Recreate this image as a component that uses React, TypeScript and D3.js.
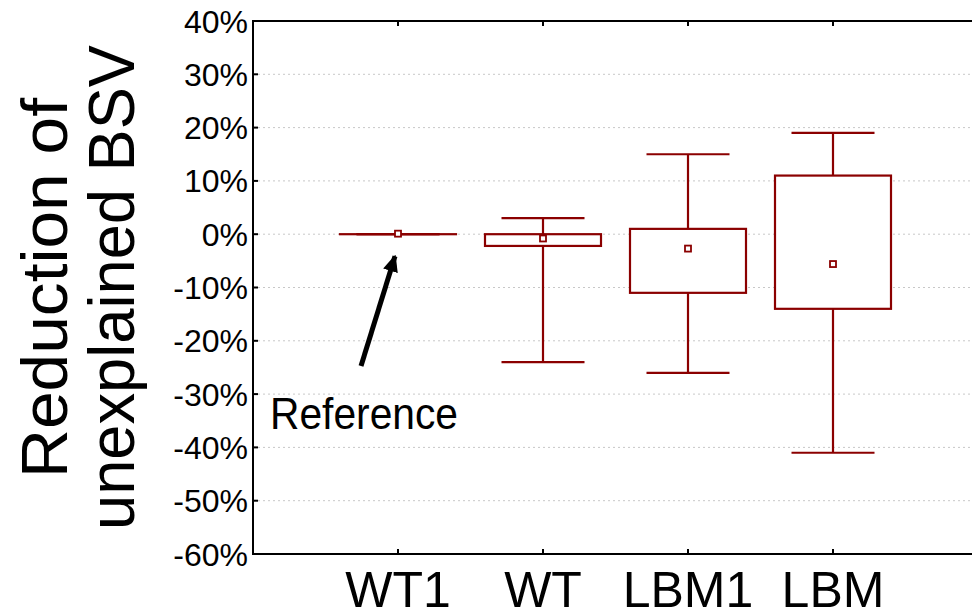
import React, { useRef, useEffect } from 'react';
import * as d3 from 'd3';

// values (percent)
const groups = ['WT1', 'WT', 'LBM1', 'LBM'];
const whiskerLow = [0, -24, -26, -41];
const boxLow = [0, -2.2, -11, -14];
const boxHigh = [0, 0, 1, 11];
const whiskerHigh = [0, 3, 15, 19];
const means = [0.1, -0.8, -2.7, -5.6];
const yTicks = [40, 30, 20, 10, 0, -10, -20, -30, -40, -50, -60];

export default function App() {
  const svgRef = useRef<SVGSVGElement>(null);

  useEffect(() => {
    const width = 972;
    const height = 612;
    const margin = { top: 21, right: -6, bottom: 58, left: 253 };
    const red = '#8b0000';

    const svg = d3.select(svgRef.current)
      .attr('width', width)
      .attr('height', height);
    svg.selectAll('*').remove();

    const x = d3.scalePoint<string>()
      .domain(groups)
      .range([margin.left, width - margin.right])
      .padding(1);
    const y = d3.scaleLinear()
      .domain([-60, 40])
      .range([height - margin.bottom, margin.top]);

    const boxW = 116;
    const capW = 83;
    const font = 'Liberation Sans, Arial, sans-serif';

    // grid
    svg.append('g')
      .selectAll('line')
      .data(yTicks.filter(t => t !== 40 && t !== -60))
      .join('line')
      .attr('x1', margin.left)
      .attr('x2', width)
      .attr('y1', d => y(d))
      .attr('y2', d => y(d))
      .attr('stroke', '#c8c8c8')
      .attr('stroke-width', 1)
      .attr('stroke-dasharray', '2,3');

    // boxes
    const g = svg.append('g');
    groups.forEach((name, i) => {
      const cx = x(name)!;
      // whisker stem
      g.append('line')
        .attr('x1', cx).attr('x2', cx)
        .attr('y1', y(whiskerLow[i])).attr('y2', y(whiskerHigh[i]))
        .attr('stroke', red).attr('stroke-width', 2.2);
      // caps
      [whiskerLow[i], whiskerHigh[i]].forEach(v => {
        g.append('line')
          .attr('x1', cx - capW / 2).attr('x2', cx + capW / 2)
          .attr('y1', y(v)).attr('y2', y(v))
          .attr('stroke', red).attr('stroke-width', 2.2);
      });
      // box
      g.append('rect')
        .attr('x', cx - boxW / 2)
        .attr('y', y(boxHigh[i]))
        .attr('width', boxW)
        .attr('height', Math.max(0.01, y(boxLow[i]) - y(boxHigh[i])))
        .attr('fill', 'white')
        .attr('stroke', red)
        .attr('stroke-width', 2.2);
      // mean marker
      g.append('rect')
        .attr('x', cx - 3)
        .attr('y', y(means[i]) - 3)
        .attr('width', 6)
        .attr('height', 6)
        .attr('fill', 'white')
        .attr('stroke', red)
        .attr('stroke-width', 1.8);
    });

    // frame
    const frame = svg.append('g').attr('stroke', 'black').attr('stroke-width', 2).attr('fill', 'none');
    frame.append('path')
      .attr('d', `M${width},${y(40)}H${margin.left}V${y(-60)}H${width}`);

    // y ticks
    frame.selectAll('line.yt')
      .data(yTicks)
      .join('line')
      .attr('class', 'yt')
      .attr('x1', margin.left).attr('x2', margin.left + 5)
      .attr('y1', d => y(d)).attr('y2', d => y(d));
    // x ticks top and bottom
    groups.forEach(name => {
      const cx = x(name)!;
      frame.append('line').attr('x1', cx).attr('x2', cx).attr('y1', y(40)).attr('y2', y(40) + 5);
      frame.append('line').attr('x1', cx).attr('x2', cx).attr('y1', y(-60)).attr('y2', y(-60) - 5);
    });

    // y tick labels
    svg.append('g')
      .selectAll('text')
      .data(yTicks)
      .join('text')
      .attr('x', margin.left - 5)
      .attr('y', d => y(d))
      .attr('dy', '0.36em')
      .attr('text-anchor', 'end')
      .style('font-family', font)
      .style('font-size', '32px')
      .text(d => `${d}%`);

    // x labels
    svg.append('g')
      .selectAll('text')
      .data(groups)
      .join('text')
      .attr('x', d => x(d)!)
      .attr('y', 607)
      .attr('text-anchor', 'middle')
      .style('font-family', font)
      .style('font-size', '50px')
      .text(d => d);

    // y title
    const title = svg.append('text')
      .attr('transform', 'translate(0,288) rotate(-90)')
      .style('font-family', font)
      .style('font-size', '64px');
    title.append('tspan').attr('x', -190).attr('y', 67)
      .attr('textLength', 380).attr('lengthAdjust', 'spacingAndGlyphs')
      .text('Reduction of');
    title.append('tspan').attr('x', -242).attr('y', 134)
      .attr('textLength', 485).attr('lengthAdjust', 'spacingAndGlyphs')
      .text('unexplained BSV');

    // annotation
    svg.append('defs').append('marker')
      .attr('id', 'head')
      .attr('viewBox', '0 0 10 10')
      .attr('refX', 9).attr('refY', 5)
      .attr('markerWidth', 3.4).attr('markerHeight', 3.4)
      .attr('markerUnits', 'strokeWidth')
      .attr('orient', 'auto')
      .append('path')
      .attr('d', 'M0,0.5L10,5L0,9.5Z')
      .attr('fill', 'black');
    svg.append('line')
      .attr('x1', 361).attr('y1', 366)
      .attr('x2', x('WT1')! - 3).attr('y2', y(0) + 22)
      .attr('stroke', 'black')
      .attr('stroke-width', 5)
      .attr('marker-end', 'url(#head)');
    svg.append('text')
      .attr('x', 270)
      .attr('y', 429)
      .attr('textLength', 188)
      .attr('lengthAdjust', 'spacingAndGlyphs')
      .style('font-family', 'Liberation Sans Narrow, Arial Narrow, sans-serif')
      .style('font-size', '45px')
      .text('Reference');
  }, []);

  return (
    <svg ref={svgRef} style={{ position: 'absolute', left: 0, top: 0, display: 'block' }}></svg>
  );
}
